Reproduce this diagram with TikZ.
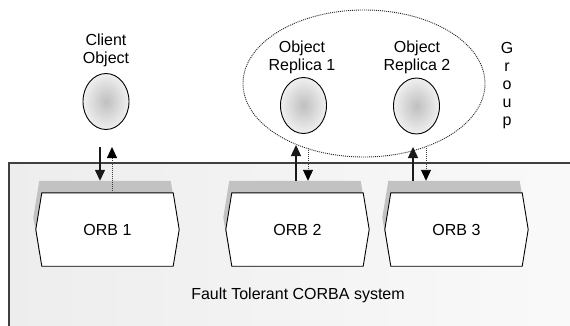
\documentclass[tikz,border=0pt]{standalone}
\usepackage{fontspec}
\setmainfont{Liberation Sans}
\usetikzlibrary{arrows.meta,shapes.geometric,calc}
\definecolor{framestroke}{HTML}{404040}
\definecolor{orbshadow}{HTML}{C2C2C2}
\definecolor{linedark}{HTML}{1A1A1A}

% ORB box: white hexagonal panel with a grey raised edge behind it
\newcommand\orbpanel[3]{% name, centre x, label
  \path node[orbbox] (#1) at (#2,229.5) {};
  \coordinate (#1top) at ([yshift=12pt]#1.north);
  \fill[orbshadow]
    ([shift={(-2.5pt,12pt)}]#1.north west) -- ([shift={(-8.5pt,12pt)}]#1.west) --
    ([shift={(-2.5pt,12pt)}]#1.south west) -- ([shift={(-2.5pt,12pt)}]#1.south east) --
    ([shift={(3.5pt,12pt)}]#1.east) -- ([shift={(-2.5pt,12pt)}]#1.north east) -- cycle;
  \draw[orbline]
    (#1.north west) -- ([xshift=-6pt]#1.west) -- (#1.south west) --
    (#1.south east) -- ([xshift=6pt]#1.east) -- (#1.north east) -- cycle;
  \node[label text] at (#1) {#3};
}

\begin{document}
\begin{tikzpicture}[x=1pt,y=-1pt,
  label text/.style={font=\fontsize{16}{18}\selectfont, inner sep=0pt, align=center},
  orbbox/.style={rectangle, minimum width=131pt, minimum height=73pt, inner sep=0pt},
  orbline/.style={draw=black, line width=0.9pt, fill=white, line join=miter},
  objnode/.style={ellipse, draw=black, line width=0.9pt, minimum width=46pt, minimum height=56pt,
                  inner color=black!25, outer color=black!6},
  groupring/.style={ellipse, draw=black!85, line width=0.9pt, dash pattern=on 1pt off 1pt,
                    minimum width=242pt, minimum height=147pt, inner sep=0pt},
  callarrow/.style={draw=linedark, line width=1.3pt, -{Triangle[length=11pt,width=10pt]}},
  replyarrow/.style={draw=black!75, line width=0.9pt, dash pattern=on 1pt off 1pt,
                     -{Triangle[length=11pt,width=10pt,color=black]}}
]
\useasboundingbox (0,0) rectangle (570,326);
\clip (0,0) rectangle (570,326);
\fill[white] (0,0) rectangle (570,326);

% system frame
\shade[left color=black!7, right color=black!2] (9,163) rectangle (590,340);
\draw[framestroke, line width=1.4pt] (9,340) -- (9,163) -- (590,163);
\node[label text] (system) at (298,295) {Fault Tolerant CORBA system};

% ORBs
\orbpanel{orb1}{107.5}{ORB 1}
\orbpanel{orb2}{297.5}{ORB 2}
\orbpanel{orb3}{456.5}{ORB 3}

% object group
\node[groupring] (group) at (364,83.5) {};
\node[label text] (grouplabel) at (507,86) {G\\r\\o\\u\\p};

% objects
\node[objnode] (client) at (106,101.5) {};
\node[objnode] (rep1) at (303.5,105.5) {};
\node[objnode] (rep2) at (416.5,106) {};
\node[label text] (clientlabel) at (106,50.5) {Client\\Object};
\node[label text] (rep1label) at (302,57) {Object\\Replica 1};
\node[label text] (rep2label) at (417,57) {Object\\Replica 2};

% request / reply arrows
\coordinate (c1) at (100,147);
\coordinate (c2) at (112,147);
\coordinate (r1a) at (296,145);
\coordinate (r1b) at (308,148);
\coordinate (r2a) at (413,147);
\coordinate (r2b) at (426,148);

\draw[callarrow] (c1) -- (c1 |- orb1top);
\draw[replyarrow] (c2 |- orb1.north) -- (c2);
\draw[callarrow] (r1a |- orb2top) -- (r1a);
\draw[replyarrow] (r1b) -- (r1b |- orb2top);
\draw[callarrow] (r2a |- orb3top) -- (r2a);
\draw[replyarrow] (r2b) -- (r2b |- orb3top);
\end{tikzpicture}
\end{document}
